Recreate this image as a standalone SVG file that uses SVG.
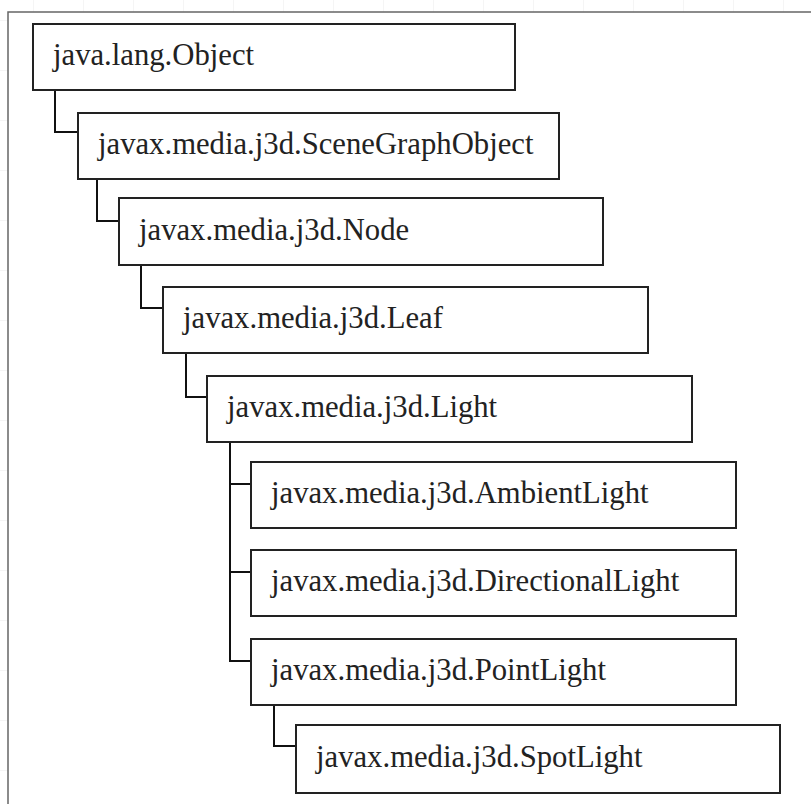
<svg xmlns="http://www.w3.org/2000/svg" width="811" height="804" viewBox="0 0 811 804">
  <defs>
    <pattern id="grid" x="33" y="20" width="50" height="50" patternUnits="userSpaceOnUse">
      <path d="M0 0 V50 M0 0 H50" fill="none" stroke="#ececec" stroke-width="1"/>
    </pattern>
  </defs>
  <style>
    .box { fill: #ffffff; stroke: #222222; stroke-width: 2; }
    .lbl { font-family: "Liberation Serif", "Times New Roman", serif; font-size: 30.7px; fill: #222222; }
    .conn { fill: none; stroke: #111111; stroke-width: 2; }
  </style>
  <rect x="0" y="0" width="811" height="804" fill="#ffffff"/>
  <rect x="0" y="0" width="811" height="804" fill="url(#grid)"/>
  <rect id="frame" x="8" y="12" width="820" height="820" fill="#ffffff" stroke="#666666" stroke-width="1.5"/>

  <g id="connectors">
    <path class="conn" d="M55 90 V132 H78"/>
    <path class="conn" d="M97 179 V221 H119"/>
    <path class="conn" d="M141 265 V308 H163"/>
    <path class="conn" d="M186 353 V397 H207"/>
    <path class="conn" d="M230 442 V661 H251"/>
    <path class="conn" d="M230 484 H251"/>
    <path class="conn" d="M230 572 H251"/>
    <path class="conn" d="M274 705 V746 H296"/>
  </g>

  <g id="n-object">
    <rect class="box" x="33" y="24" width="482" height="66"/>
    <text class="lbl" x="53" y="65">java.lang.Object</text>
  </g>
  <g id="n-scenegraphobject">
    <rect class="box" x="78" y="113" width="481" height="66"/>
    <text class="lbl" x="98" y="154">javax.media.j3d.SceneGraphObject</text>
  </g>
  <g id="n-node">
    <rect class="box" x="119" y="198" width="484" height="67"/>
    <text class="lbl" x="139" y="240">javax.media.j3d.Node</text>
  </g>
  <g id="n-leaf">
    <rect class="box" x="163" y="287" width="485" height="66"/>
    <text class="lbl" x="183" y="328">javax.media.j3d.Leaf</text>
  </g>
  <g id="n-light">
    <rect class="box" x="207" y="376" width="485" height="66"/>
    <text class="lbl" x="227" y="417">javax.media.j3d.Light</text>
  </g>
  <g id="n-ambientlight">
    <rect class="box" x="251" y="462" width="485" height="66"/>
    <text class="lbl" x="271" y="503">javax.media.j3d.AmbientLight</text>
  </g>
  <g id="n-directionallight">
    <rect class="box" x="251" y="550" width="485" height="66"/>
    <text class="lbl" x="271" y="591">javax.media.j3d.DirectionalLight</text>
  </g>
  <g id="n-pointlight">
    <rect class="box" x="251" y="639" width="485" height="66"/>
    <text class="lbl" x="271" y="680">javax.media.j3d.PointLight</text>
  </g>
  <g id="n-spotlight">
    <rect class="box" x="296" y="725" width="484" height="68"/>
    <text class="lbl" x="316" y="767">javax.media.j3d.SpotLight</text>
  </g>
</svg>
